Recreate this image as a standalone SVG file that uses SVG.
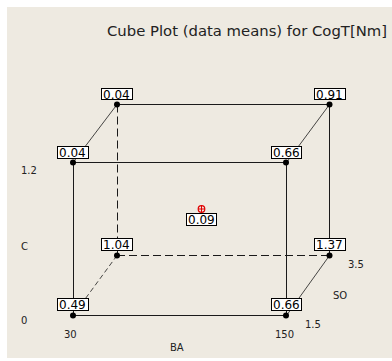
<svg xmlns="http://www.w3.org/2000/svg" width="392" height="361" viewBox="0 0 392 361">
<style>
.edge{stroke:#1a1a1a;stroke-width:1;fill:none}
.thin{stroke:#1a1a1a;stroke-width:0.8;fill:none}
.dash{stroke-dasharray:8 4}
.dash2{stroke-dasharray:5 3}
.dot{fill:#000}
.box{fill:#fff;stroke:#000;stroke-width:1}
.val{font-family:"DejaVu Sans",sans-serif;font-size:12px;fill:#000}
.ax{font-family:"DejaVu Sans",sans-serif;font-size:10px;fill:#222}
.title{font-family:"DejaVu Sans",sans-serif;font-size:14.5px;fill:#222}
</style>
<rect x="0" y="0" width="392" height="361" fill="#ffffff"/>
<rect x="7" y="7" width="385" height="351" fill="#EEEAE1"/>
<text class="title" x="107" y="36" textLength="280" lengthAdjust="spacingAndGlyphs">Cube Plot (data means) for CogT[Nm]</text>
<g id="connectors">
<line class="edge" x1="117" y1="104.5" x2="329.5" y2="104.5"/>
<line class="edge" x1="73" y1="162.5" x2="286" y2="162.5"/>
<line class="edge" x1="73" y1="315.5" x2="286" y2="315.5"/>
<line class="edge dash" x1="117" y1="255.5" x2="329.5" y2="255.5"/>
<line class="edge" x1="73.5" y1="162.5" x2="73.5" y2="315.5"/>
<line class="edge" x1="286.5" y1="162.5" x2="286.5" y2="315.5"/>
<line class="edge" x1="329.5" y1="104.5" x2="329.5" y2="255.5"/>
<line class="edge dash" x1="117.5" y1="104.5" x2="117.5" y2="255.5"/>
<line class="thin" x1="117" y1="104.5" x2="73" y2="162.5"/>
<line class="thin" x1="329.5" y1="104.5" x2="286.5" y2="162.5"/>
<line class="thin dash2" x1="117" y1="255.5" x2="73" y2="315.5"/>
<line class="thin" x1="329.5" y1="255.5" x2="286.5" y2="315.5"/>
</g>
<g id="n-back-top-left"><circle class="dot" cx="117" cy="104.5" r="3"/><rect class="box" x="101.5" y="88.5" width="31" height="11"/><text class="val" x="103" y="98.5">0.04</text></g>
<g id="n-back-top-right"><circle class="dot" cx="329.5" cy="104.5" r="3"/><rect class="box" x="314.5" y="88.5" width="31" height="11"/><text class="val" x="316" y="98.5">0.91</text></g>
<g id="n-front-top-left"><circle class="dot" cx="73" cy="162.5" r="3"/><rect class="box" x="57.5" y="146.5" width="31" height="12"/><text class="val" x="59" y="157">0.04</text></g>
<g id="n-front-top-right"><circle class="dot" cx="286" cy="162.5" r="3"/><rect class="box" x="271.5" y="146.5" width="30" height="12"/><text class="val" x="273" y="157">0.66</text></g>
<g id="n-back-bottom-left"><circle class="dot" cx="117" cy="255.5" r="3"/><rect class="box" x="101.5" y="238.5" width="31" height="12"/><text class="val" x="103" y="249">1.04</text></g>
<g id="n-back-bottom-right"><circle class="dot" cx="329.5" cy="255.5" r="3"/><rect class="box" x="314.5" y="238.5" width="31" height="12"/><text class="val" x="316" y="249">1.37</text></g>
<g id="n-front-bottom-left"><circle class="dot" cx="73" cy="315.5" r="3"/><rect class="box" x="57.5" y="298.5" width="31" height="12"/><text class="val" x="59" y="309">0.49</text></g>
<g id="n-front-bottom-right"><circle class="dot" cx="286" cy="315.5" r="3"/><rect class="box" x="271.5" y="298.5" width="30" height="12"/><text class="val" x="273" y="309">0.66</text></g>
<g id="n-center">
<circle cx="201.5" cy="209" r="3.3" fill="none" stroke="#e00000" stroke-width="1.2"/>
<line x1="198" y1="209" x2="205" y2="209" stroke="#e00000" stroke-width="1"/>
<line x1="201.5" y1="205.5" x2="201.5" y2="212.5" stroke="#e00000" stroke-width="1"/>
<rect class="box" x="186.5" y="213.5" width="30" height="12"/><text class="val" x="188" y="224">0.09</text>
</g>
<g id="axis-labels">
<text class="ax" x="21" y="174">1.2</text>
<text class="ax" x="21" y="250">C</text>
<text class="ax" x="21" y="324">0</text>
<text class="ax" x="64" y="338">30</text>
<text class="ax" x="275" y="338">150</text>
<text class="ax" x="170" y="351">BA</text>
<text class="ax" x="348" y="268">3.5</text>
<text class="ax" x="333" y="299">SO</text>
<text class="ax" x="305" y="328">1.5</text>
</g>
</svg>
